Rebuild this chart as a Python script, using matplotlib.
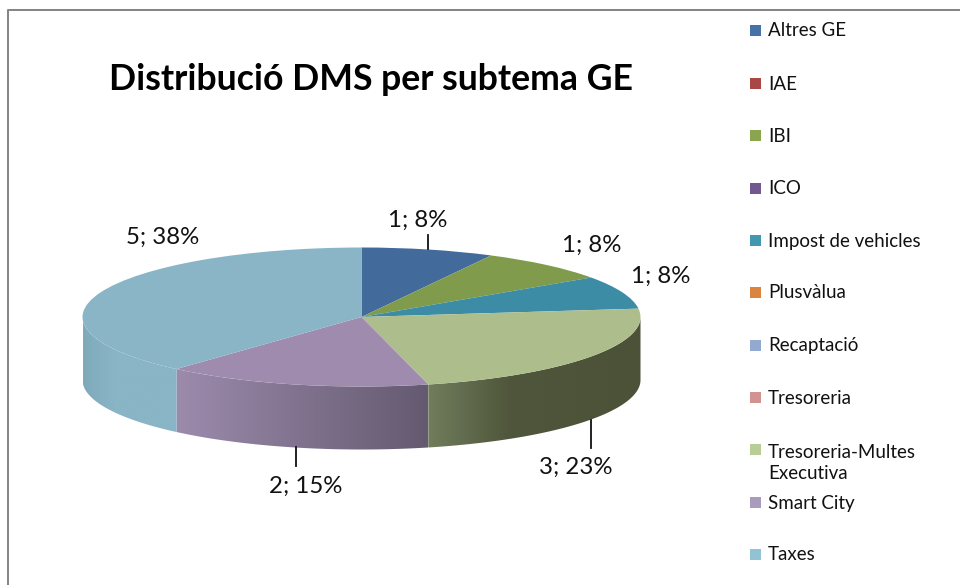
import numpy as np
import matplotlib
matplotlib.use("Agg")
import matplotlib.pyplot as plt
from matplotlib.patches import Rectangle, Polygon
from matplotlib.transforms import Affine2D
from matplotlib.colors import to_rgb

categories = ["Altres GE", "IAE", "IBI", "ICO", "Impost de vehicles", "Plusvàlua",
              "Recaptació", "Tresoreria", "Tresoreria-Multes\nExecutiva", "Smart City", "Taxes"]
values = [1, 0, 1, 0, 1, 0, 0, 0, 3, 2, 5]
top_colors = ["#426A9B", "#A5423F", "#7F9B4B", "#6A5288", "#3C8CA5", "#D07F3B",
              "#8CA2C8", "#C88C8B", "#ADBE8C", "#9E8BAD", "#89B5C7"]
legend_colors = ["#4573A7", "#AA4644", "#89A54E", "#71588F", "#4298AF", "#DB843D",
                 "#93A9CF", "#D19392", "#B9CD96", "#A99BBD", "#92C3D5"]
title = "Distribució DMS per subtema GE"

W, H = 960, 585
cx, cy, rx, ry, depth = 361.5, 317.0, 279.0, 69.5, 63.0
FONT = "Lato"
TXT = "#111111"

fig = plt.figure(figsize=(W / 100, H / 100), dpi=100, facecolor="white")
ax = fig.add_axes([0, 0, 1, 1])
px_tr = Affine2D().scale(1, -1).translate(0, H)   # pixels, y down -> display

# side wall shades, per slice: stops along the screen x position (pixels)
side_stops = {
    "Smart City": [(176, "#9D8BAD"), (428, "#645A70")],
    "Tresoreria-Multes\nExecutiva": [(428, "#717D5D"), (510, "#4F563B"), (640, "#4C5238")],
    "Taxes": [(83, "#7FAABA"), (115, "#89B5C6"), (176, "#89B5C6")],
}

total = sum(values)
dy = depth / ry
xlim = (-cx / rx, (W - cx) / rx)
ylim = ((cy - H) / ry, cy / ry)
start = 0.0
for name, v in zip(categories, values):
    end = start + 360.0 * v / total
    lo, hi = max(start, 90.0), min(end, 270.0)
    if v > 0 and hi > lo and name in side_stops:
        xs_st = [s[0] for s in side_stops[name]]
        cols = np.array([to_rgb(s[1]) for s in side_stops[name]])
        th = np.radians(np.linspace(lo, hi, 200))
        X, Y = np.sin(th), np.cos(th)
        outline = np.column_stack([np.r_[X, X[::-1]], np.r_[Y, Y[::-1] - dy]])
        poly = Polygon(outline, closed=True, transform=ax.transData, facecolor="none", edgecolor="none")
        ax.add_patch(poly)
        x0, x1 = X.min(), X.max()
        col_px = cx + rx * np.linspace(x0, x1, 400)
        grad = np.stack([np.interp(col_px, xs_st, cols[:, k]) for k in range(3)], axis=-1)[None, :, :]
        im = ax.imshow(grad, extent=(x0, x1, Y.min() - dy - 0.05, Y.max() + 0.05), aspect="auto",
                       interpolation="bilinear", zorder=1)
        im.set_clip_path(poly)
    start = end

wedges, _ = ax.pie(values, colors=top_colors, startangle=90, counterclock=False,
                   radius=1.0, center=(0, 0), wedgeprops=dict(linewidth=0))
for w in wedges:
    w.set_zorder(2)
ax.set_frame_on(False)
ax.set_aspect("auto")
ax.set_xlim(*xlim)
ax.set_ylim(*ylim)
ax.set_xticks([])
ax.set_yticks([])

# chart frame
fig.add_artist(plt.Line2D([8, 8, W], [H, 10, 10], transform=px_tr, color="#868686", lw=1.45))

# title
fig.text(371, 79, title, transform=px_tr, ha="center", va="center", family=FONT,
         fontweight="bold", fontsize=25.7, color="#000000")

# data labels
label_pos = {"Altres GE": (418, 220), "IBI": (592, 245), "Impost de vehicles": (661, 276),
             "Tresoreria-Multes\nExecutiva": (576, 467), "Smart City": (306, 486), "Taxes": (163, 237)}
leaders = {"Altres GE": ([428, 428], [235, 249]),
           "Tresoreria-Multes\nExecutiva": ([591, 591], [420, 448]),
           "Smart City": ([296, 296], [447, 466])}
for name, v in zip(categories, values):
    if v == 0:
        continue
    x, y = label_pos[name]
    fig.text(x, y, f"{v}; {round(100 * v / total)}%", transform=px_tr, ha="center", va="center",
             family=FONT, fontsize=17.3, color=TXT)
    if name in leaders:
        lx, ly = leaders[name]
        fig.add_artist(plt.Line2D(lx, ly, transform=px_tr, color="#111111", lw=1.3))

# legend
legend_y = [31, 84, 136, 189, 241, 293, 346, 398, 463, 503, 555]
marker_y = [31, 84, 136, 189, 241, 293, 346, 398, 450, 503, 555]
for name, c, y, my in zip(categories, legend_colors, legend_y, marker_y):
    fig.add_artist(Rectangle((750, my - 6), 11, 11, transform=px_tr, facecolor=c, edgecolor="none"))
    fig.text(768, y, name, transform=px_tr, ha="left", va="center",
             family=FONT, fontsize=13.5, color=TXT, linespacing=1.35)

fig.savefig("out.png", dpi=100, facecolor="white")
